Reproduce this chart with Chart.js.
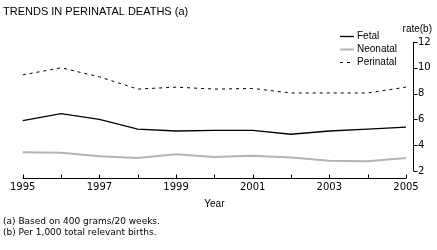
<!DOCTYPE html>
<html>
<head>
<meta charset="utf-8">
<script src="https://cdn.jsdelivr.net/npm/chart.js@4"></script>
<style>
  html, body { margin: 0; padding: 0; background: #fff; }
  #wrap { width: 437px; height: 250px; }
</style>
</head>
<body>
<div id="wrap"><canvas id="chart" width="437" height="250"></canvas></div>
<script>
const years = ['1995', '1996', '1997', '1998', '1999', '2000', '2001', '2002', '2003', '2004', '2005'];
const fetal = [5.9, 6.45, 6.0, 5.25, 5.1, 5.15, 5.15, 4.85, 5.1, 5.25, 5.4];
const neonatal = [3.45, 3.42, 3.15, 3.0, 3.3, 3.08, 3.18, 3.05, 2.8, 2.75, 3.0];
const perinatal = [9.45, 10.0, 9.3, 8.35, 8.5, 8.35, 8.4, 8.05, 8.05, 8.05, 8.5];
const yTicks = [2, 4, 6, 8, 10, 12];

const FONT = '"Liberation Sans", Arial, sans-serif';
const WIDE = '"DejaVu Sans", Verdana, sans-serif';

// axes drawn by hand: x axis sits a little below the plot, y axis a little right of it
const axesPlugin = {
  id: 'axes',
  afterDraw(chart) {
    const ctx = chart.ctx;
    const x = chart.scales.x, y = chart.scales.y;
    const area = chart.chartArea;
    ctx.save();
    ctx.strokeStyle = '#000';
    ctx.lineWidth = 1;
    // x axis
    const ay = Math.round(area.bottom + 7) + 0.5;
    ctx.beginPath();
    ctx.moveTo(x.getPixelForValue(0), ay);
    ctx.lineTo(x.getPixelForValue(years.length - 1), ay);
    years.forEach((yr, i) => {
      const px = Math.round(x.getPixelForValue(i)) + 0.5;
      ctx.moveTo(px, ay);
      ctx.lineTo(px, ay - 4);
    });
    ctx.stroke();
    // y axis
    const ax = Math.round(area.right + 7) + 0.5;
    ctx.beginPath();
    ctx.moveTo(ax, y.getPixelForValue(yTicks[0]));
    ctx.lineTo(ax, y.getPixelForValue(yTicks[yTicks.length - 1]));
    yTicks.forEach(v => {
      const py = Math.round(y.getPixelForValue(v)) + 0.5;
      ctx.moveTo(ax, py);
      ctx.lineTo(ax + 4, py);
    });
    ctx.stroke();

    // texts
    ctx.fillStyle = '#000';
    ctx.textBaseline = 'middle';
    ctx.font = '11px ' + FONT;
    ctx.textAlign = 'left';
    ctx.fillText('TRENDS IN PERINATAL DEATHS (a)', 3, 12);
    ctx.font = '10px ' + FONT;
    ctx.textAlign = 'right';
    ctx.fillText('rate(b)', 432, 29);
    ctx.textAlign = 'center';
    ctx.fillText('Year', (area.left + area.right) / 2, 204);
    ctx.textAlign = 'left';
    ctx.font = '9px ' + WIDE;
    ctx.fillText('(a) Based on 400 grams/20 weeks.', 3, 222);
    ctx.fillText('(b) Per 1,000 total relevant births.', 3, 233);

    // legend
    ctx.font = '10px ' + FONT;
    chart.data.datasets.forEach((ds, i) => {
      const ly = 36 + i * 13;
      ctx.save();
      ctx.strokeStyle = ds.borderColor;
      ctx.lineWidth = ds.borderWidth;
      ctx.setLineDash(ds.borderDash || []);
      ctx.beginPath();
      ctx.moveTo(340, ly + 0.5);
      ctx.lineTo(354, ly + 0.5);
      ctx.stroke();
      ctx.restore();
      ctx.fillText(ds.label, 357, ly);
    });
    ctx.restore();
  }
};

new Chart(document.getElementById('chart'), {
  type: 'line',
  data: {
    labels: years,
    datasets: [
      { label: 'Fetal', data: fetal, borderColor: '#000', borderWidth: 1.3, pointRadius: 0, tension: 0 },
      { label: 'Neonatal', data: neonatal, borderColor: '#b4b4b4', borderWidth: 2, pointRadius: 0, tension: 0 },
      { label: 'Perinatal', data: perinatal, borderColor: '#000', borderWidth: 1, borderDash: [3, 4], pointRadius: 0, tension: 0 },
    ],
  },
  options: {
    responsive: false,
    animation: false,
    events: [],
    layout: { padding: { left: 17, top: 42, right: 0, bottom: 0 } },
    plugins: { legend: { display: false }, tooltip: { enabled: false } },
    scales: {
      x: {
        offset: false,
        grid: { display: false, drawTicks: false },
        border: { display: false },
        afterFit: s => { s.height = 79; },
        ticks: {
          padding: 10,
          color: '#000',
          font: { family: WIDE, size: 10 },
          maxRotation: 0,
          autoSkip: false,
          callback: (v, i) => (i % 2 === 0 ? years[i] : ''),
        },
      },
      y: {
        position: 'right',
        min: 2,
        max: 12,
        grid: { display: false, drawTicks: false },
        border: { display: false },
        afterFit: s => { s.width = 31; },
        afterBuildTicks: s => { s.ticks = yTicks.map(v => ({ value: v })); },
        ticks: {
          padding: 12,
          color: '#000',
          font: { family: WIDE, size: 10 },
        },
      },
    },
  },
  plugins: [axesPlugin],
});
</script>
</body>
</html>
